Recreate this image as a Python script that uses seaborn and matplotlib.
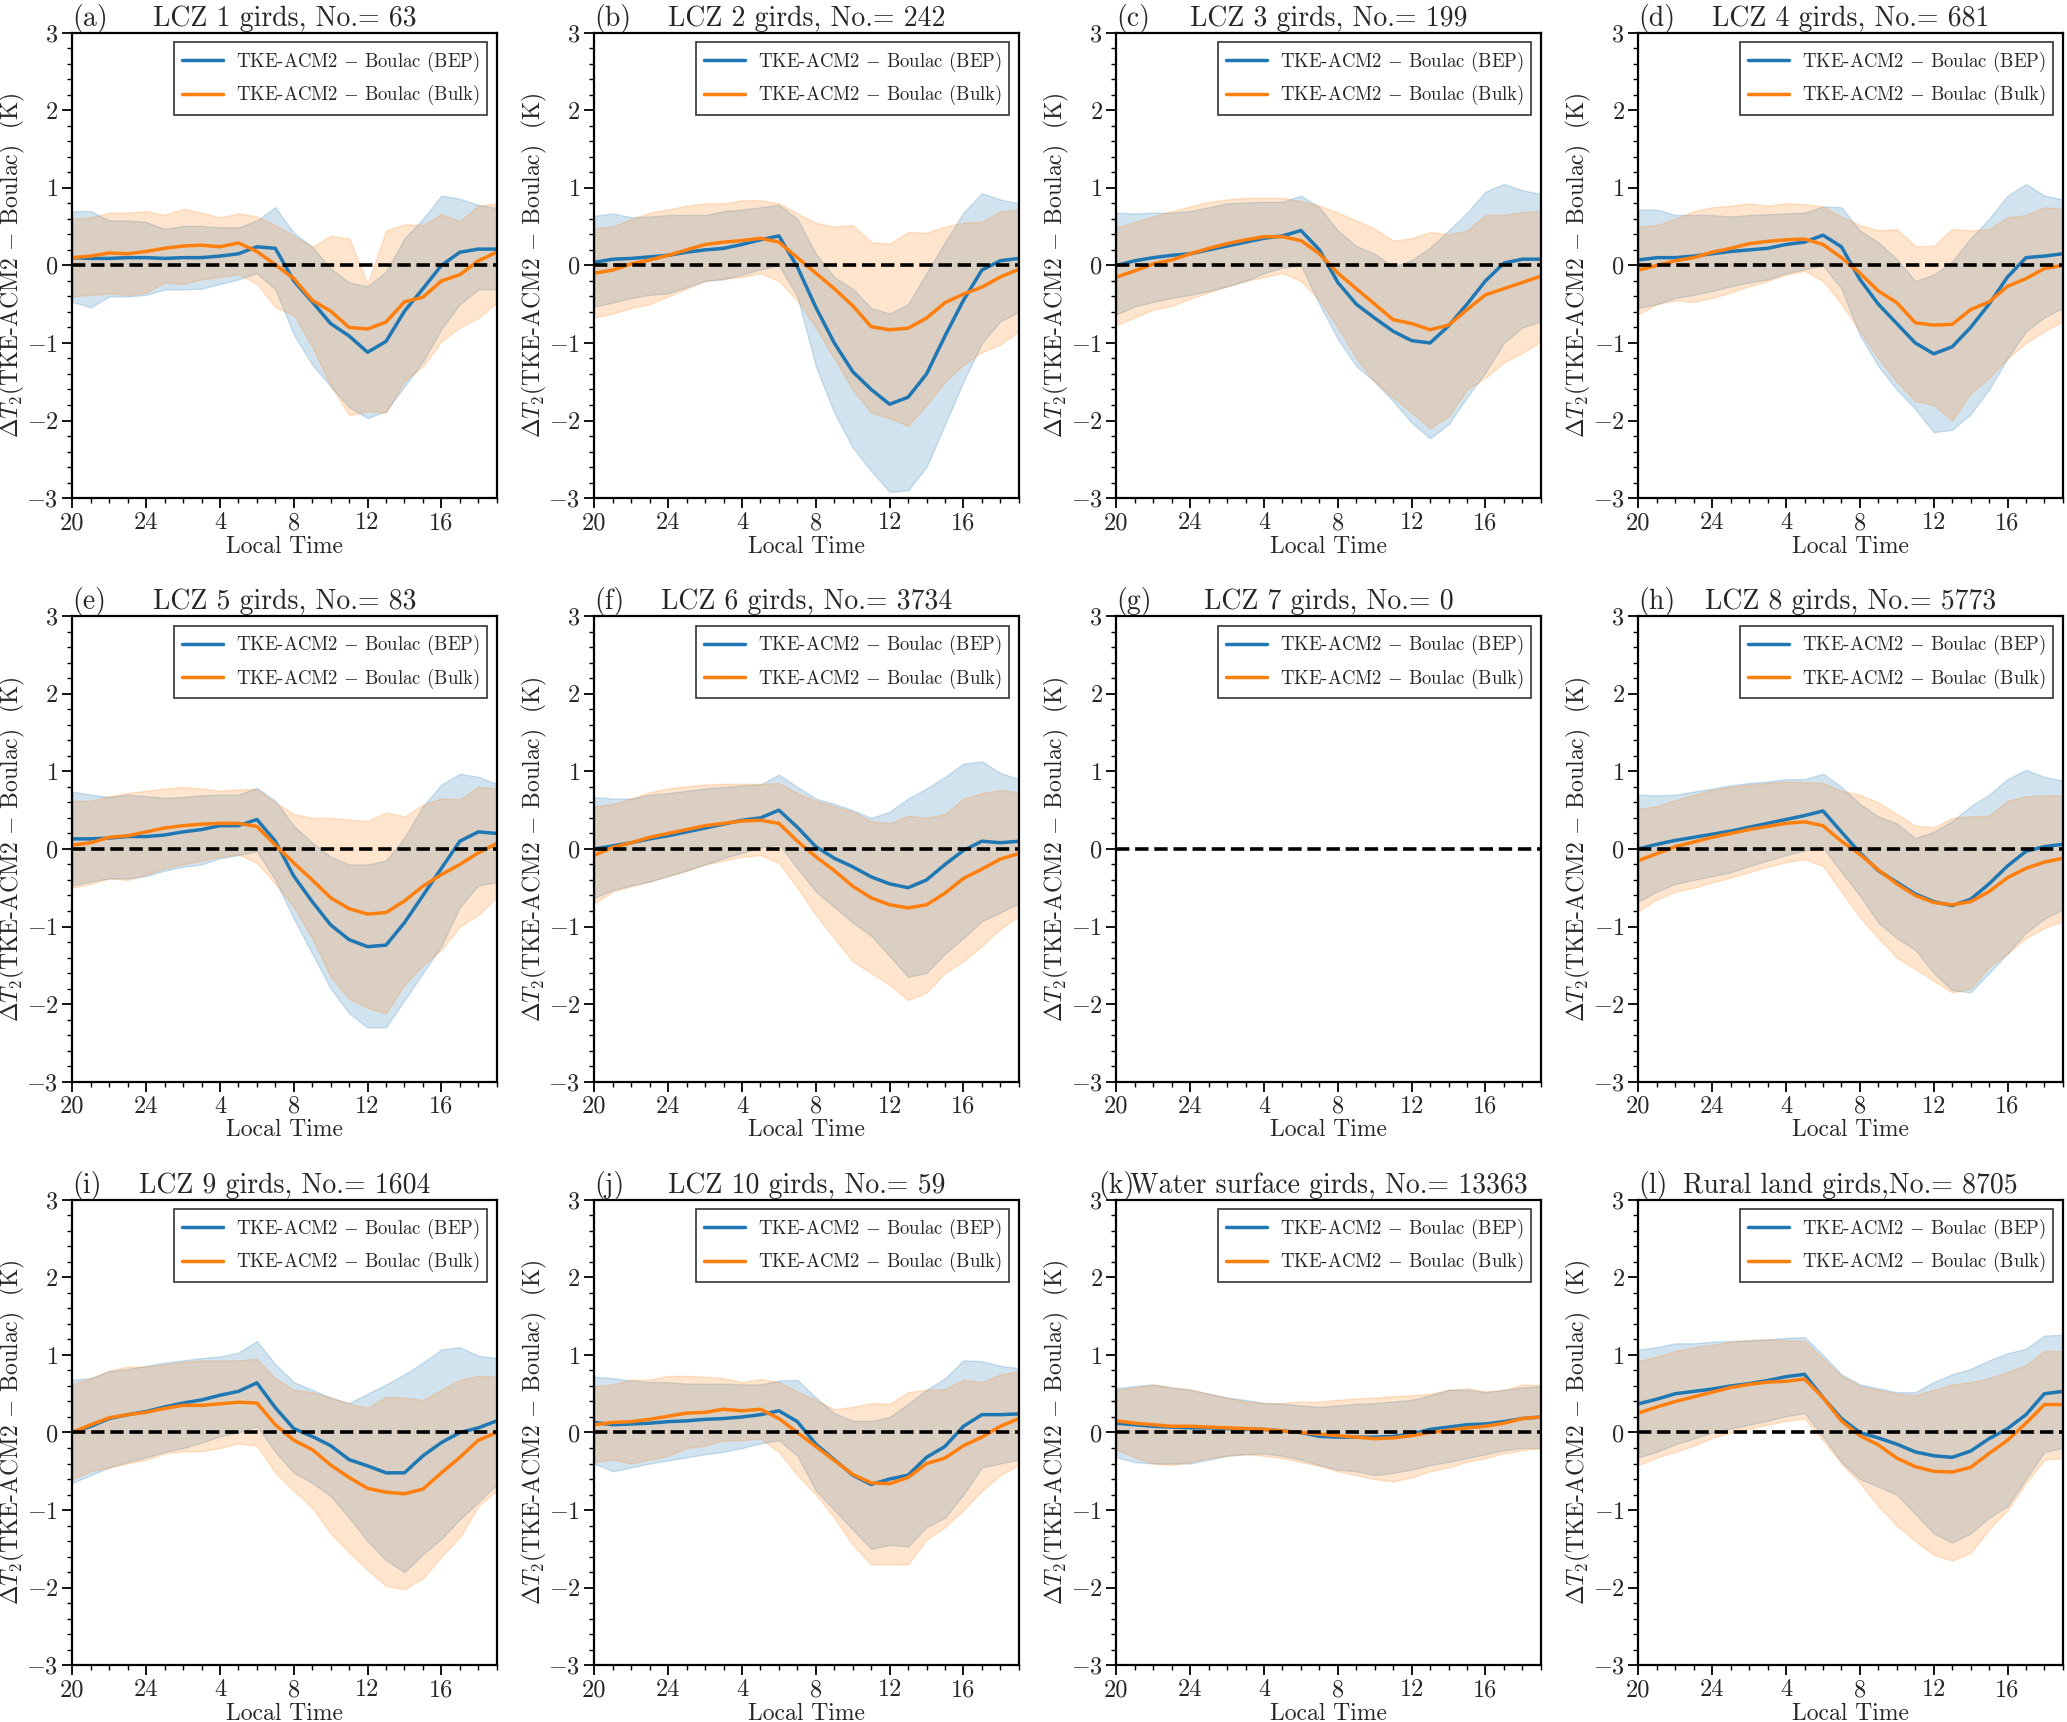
""" Diurnal T2 difference (TKE-ACM2 - Boulac) per LCZ class. """
import numpy as np
import seaborn as sns
import matplotlib.pyplot as plt
from matplotlib.ticker import MultipleLocator

# local hour of each output step, 20 LT to 19 LT next day
local_hour = [20, 21, 22, 23, 24, 1, 2, 3, 4, 5, 6, 7, 8, 9, 10, 11, 12, 13, 14, 15, 16, 17, 18, 19]
tick_hours = [20, 24, 4, 8, 12, 16]

series_names = ['TKE-ACM2 $-$ Boulac (BEP)', 'TKE-ACM2 $-$ Boulac (Bulk)']

# (a) LCZ 1
lcz1_bep = [0.10, 0.09, 0.09, 0.10, 0.10, 0.09, 0.10, 0.10, 0.12, 0.15, 0.24, 0.22,
            -0.20, -0.47, -0.75, -0.91, -1.12, -0.98, -0.59, -0.30, 0.00, 0.17, 0.21, 0.21]
lcz1_bep_up = [0.70, 0.70, 0.58, 0.58, 0.56, 0.47, 0.51, 0.51, 0.49, 0.49, 0.58, 0.75,
               0.42, 0.24, -0.04, -0.22, -0.27, -0.08, 0.35, 0.60, 0.90, 0.86, 0.78, 0.74]
lcz1_bep_lo = [-0.47, -0.54, -0.40, -0.40, -0.38, -0.31, -0.31, -0.30, -0.24, -0.18, -0.10, -0.31,
               -0.89, -1.28, -1.56, -1.83, -1.97, -1.88, -1.56, -1.24, -0.82, -0.50, -0.31, -0.31]
lcz1_bulk = [0.10, 0.12, 0.16, 0.15, 0.18, 0.22, 0.25, 0.26, 0.24, 0.29, 0.18, 0.01,
             -0.17, -0.45, -0.59, -0.80, -0.82, -0.73, -0.47, -0.41, -0.20, -0.12, 0.06, 0.17]
lcz1_bulk_up = [0.60, 0.62, 0.68, 0.68, 0.70, 0.65, 0.73, 0.68, 0.62, 0.67, 0.63, 0.52,
                0.38, 0.24, 0.38, 0.35, -0.24, 0.45, 0.53, 0.52, 0.66, 0.57, 0.77, 0.80]
lcz1_bulk_lo = [-0.40, -0.38, -0.36, -0.38, -0.35, -0.22, -0.24, -0.18, -0.15, -0.11, -0.24, -0.54,
                -0.64, -1.05, -1.55, -1.93, -1.88, -1.90, -1.49, -1.30, -0.98, -0.80, -0.68, -0.48]

# (b) LCZ 2
lcz2_bep = [0.04, 0.08, 0.09, 0.11, 0.13, 0.17, 0.20, 0.22, 0.27, 0.33, 0.38, -0.02,
            -0.54, -1.00, -1.37, -1.60, -1.79, -1.70, -1.40, -0.91, -0.45, -0.06, 0.06, 0.09]
lcz2_bep_up = [0.64, 0.67, 0.62, 0.63, 0.65, 0.65, 0.65, 0.70, 0.72, 0.75, 0.78, 0.60,
               0.15, -0.15, -0.30, -0.55, -0.62, -0.50, -0.10, 0.30, 0.68, 0.93, 0.85, 0.80]
lcz2_bep_lo = [-0.53, -0.48, -0.42, -0.38, -0.36, -0.28, -0.20, -0.18, -0.12, -0.05, 0.00, -0.40,
               -1.30, -1.90, -2.35, -2.65, -2.92, -2.90, -2.60, -2.05, -1.50, -1.00, -0.72, -0.60]
lcz2_bulk = [-0.10, -0.06, 0.02, 0.07, 0.13, 0.20, 0.27, 0.30, 0.32, 0.35, 0.30, 0.10,
             -0.10, -0.30, -0.52, -0.79, -0.83, -0.81, -0.68, -0.48, -0.37, -0.28, -0.15, -0.05]
lcz2_bulk_up = [0.48, 0.50, 0.60, 0.68, 0.72, 0.77, 0.80, 0.80, 0.84, 0.84, 0.80, 0.67,
                0.55, 0.50, 0.52, 0.30, 0.28, 0.43, 0.42, 0.50, 0.55, 0.56, 0.70, 0.72]
lcz2_bulk_lo = [-0.67, -0.62, -0.55, -0.50, -0.40, -0.30, -0.20, -0.17, -0.15, -0.10, -0.20, -0.45,
                -0.80, -1.20, -1.60, -1.90, -1.97, -2.07, -1.80, -1.50, -1.28, -1.12, -1.02, -0.85]

# (c) LCZ 3
lcz3_bep = [0.00, 0.06, 0.10, 0.13, 0.15, 0.20, 0.25, 0.30, 0.35, 0.38, 0.45, 0.20,
            -0.22, -0.50, -0.68, -0.85, -0.97, -1.00, -0.78, -0.50, -0.20, 0.03, 0.08, 0.08]
lcz3_bep_up = [0.68, 0.67, 0.68, 0.68, 0.70, 0.75, 0.80, 0.81, 0.82, 0.82, 0.90, 0.75,
               0.45, 0.25, 0.15, -0.02, 0.07, 0.23, 0.45, 0.68, 0.95, 1.05, 0.97, 0.92]
lcz3_bep_lo = [-0.63, -0.53, -0.47, -0.42, -0.38, -0.33, -0.27, -0.20, -0.10, -0.03, 0.00, -0.50,
               -0.95, -1.30, -1.50, -1.75, -2.03, -2.23, -2.05, -1.70, -1.38, -1.00, -0.80, -0.72]
lcz3_bulk = [-0.15, -0.07, 0.02, 0.07, 0.15, 0.22, 0.28, 0.33, 0.37, 0.37, 0.32, 0.15,
             -0.10, -0.30, -0.50, -0.70, -0.75, -0.83, -0.77, -0.57, -0.38, -0.30, -0.22, -0.14]
lcz3_bulk_up = [0.49, 0.56, 0.63, 0.70, 0.76, 0.82, 0.85, 0.87, 0.87, 0.87, 0.83, 0.77,
                0.68, 0.58, 0.47, 0.32, 0.35, 0.43, 0.40, 0.45, 0.65, 0.65, 0.69, 0.70]
lcz3_bulk_lo = [-0.77, -0.67, -0.57, -0.52, -0.43, -0.35, -0.27, -0.20, -0.15, -0.10, -0.20, -0.45,
                -0.80, -1.20, -1.50, -1.70, -1.90, -2.10, -1.95, -1.60, -1.45, -1.25, -1.13, -0.98]

# (d) LCZ 4
lcz4_bep = [0.07, 0.10, 0.10, 0.12, 0.15, 0.18, 0.20, 0.22, 0.27, 0.30, 0.39, 0.24,
            -0.18, -0.50, -0.75, -1.00, -1.14, -1.05, -0.80, -0.50, -0.15, 0.10, 0.12, 0.15]
lcz4_bep_up = [0.72, 0.72, 0.65, 0.65, 0.65, 0.63, 0.65, 0.66, 0.67, 0.68, 0.76, 0.75,
               0.45, 0.30, 0.08, -0.20, -0.12, 0.05, 0.35, 0.60, 0.90, 1.05, 0.90, 0.85]
lcz4_bep_lo = [-0.55, -0.50, -0.42, -0.38, -0.33, -0.27, -0.22, -0.18, -0.10, -0.05, 0.00, -0.30,
               -0.90, -1.30, -1.60, -1.85, -2.15, -2.12, -1.92, -1.60, -1.20, -0.85, -0.67, -0.55]
lcz4_bulk = [-0.06, 0.00, 0.06, 0.10, 0.17, 0.22, 0.28, 0.31, 0.33, 0.34, 0.27, 0.10,
             -0.10, -0.33, -0.48, -0.74, -0.77, -0.76, -0.57, -0.47, -0.27, -0.17, -0.04, 0.00]
lcz4_bulk_up = [0.50, 0.52, 0.60, 0.70, 0.75, 0.77, 0.80, 0.77, 0.80, 0.79, 0.76, 0.63,
                0.52, 0.45, 0.47, 0.25, 0.25, 0.47, 0.45, 0.47, 0.62, 0.65, 0.75, 0.73]
lcz4_bulk_lo = [-0.63, -0.50, -0.45, -0.47, -0.42, -0.35, -0.27, -0.20, -0.12, -0.07, -0.20, -0.50,
                -0.85, -1.20, -1.50, -1.75, -1.80, -2.00, -1.65, -1.45, -1.20, -1.00, -0.85, -0.72]

# (e) LCZ 5
lcz5_bep = [0.13, 0.13, 0.14, 0.16, 0.16, 0.18, 0.22, 0.25, 0.30, 0.30, 0.38, 0.10,
            -0.35, -0.68, -0.98, -1.17, -1.26, -1.24, -0.95, -0.60, -0.25, 0.10, 0.22, 0.20]
lcz5_bep_up = [0.74, 0.70, 0.67, 0.70, 0.68, 0.66, 0.67, 0.69, 0.70, 0.70, 0.79, 0.62,
               0.30, 0.08, -0.10, -0.20, -0.20, -0.15, 0.15, 0.55, 0.83, 0.97, 0.93, 0.84]
lcz5_bep_lo = [-0.47, -0.42, -0.38, -0.38, -0.35, -0.28, -0.23, -0.20, -0.12, -0.08, -0.03, -0.40,
               -0.90, -1.35, -1.80, -2.12, -2.30, -2.30, -1.95, -1.60, -1.25, -0.75, -0.47, -0.43]
lcz5_bulk = [0.05, 0.08, 0.15, 0.17, 0.22, 0.27, 0.30, 0.32, 0.33, 0.33, 0.29, 0.05,
             -0.18, -0.40, -0.63, -0.77, -0.84, -0.82, -0.67, -0.48, -0.33, -0.20, -0.05, 0.07]
lcz5_bulk_up = [0.62, 0.62, 0.68, 0.72, 0.75, 0.78, 0.80, 0.78, 0.75, 0.77, 0.77, 0.60,
                0.45, 0.40, 0.40, 0.38, 0.36, 0.47, 0.42, 0.57, 0.65, 0.64, 0.80, 0.78]
lcz5_bulk_lo = [-0.50, -0.45, -0.38, -0.40, -0.33, -0.25, -0.20, -0.15, -0.10, -0.07, -0.18, -0.45,
                -0.75, -1.15, -1.65, -1.93, -2.05, -2.12, -1.75, -1.50, -1.30, -1.00, -0.85, -0.62]

# (f) LCZ 6
lcz6_bep = [0.00, 0.04, 0.08, 0.13, 0.17, 0.22, 0.27, 0.32, 0.37, 0.40, 0.50, 0.28,
            0.03, -0.12, -0.23, -0.36, -0.45, -0.50, -0.40, -0.20, -0.02, 0.10, 0.08, 0.10]
lcz6_bep_up = [0.67, 0.65, 0.65, 0.70, 0.72, 0.75, 0.78, 0.80, 0.82, 0.83, 0.96, 0.80,
               0.65, 0.58, 0.50, 0.40, 0.48, 0.65, 0.78, 0.93, 1.10, 1.13, 0.98, 0.90]
lcz6_bep_lo = [-0.63, -0.53, -0.47, -0.42, -0.35, -0.28, -0.20, -0.12, -0.05, 0.02, 0.06, -0.25,
               -0.55, -0.75, -0.95, -1.12, -1.38, -1.65, -1.60, -1.35, -1.15, -0.93, -0.82, -0.70]
lcz6_bulk = [-0.08, 0.02, 0.08, 0.15, 0.20, 0.25, 0.30, 0.33, 0.36, 0.37, 0.33, 0.10,
             -0.10, -0.28, -0.48, -0.63, -0.72, -0.76, -0.72, -0.57, -0.38, -0.26, -0.13, -0.06]
lcz6_bulk_up = [0.55, 0.58, 0.65, 0.73, 0.78, 0.81, 0.83, 0.84, 0.84, 0.84, 0.85, 0.72,
                0.62, 0.55, 0.48, 0.36, 0.33, 0.43, 0.40, 0.45, 0.65, 0.72, 0.76, 0.73]
lcz6_bulk_lo = [-0.70, -0.55, -0.48, -0.42, -0.35, -0.28, -0.20, -0.15, -0.10, -0.08, -0.18, -0.50,
                -0.85, -1.15, -1.45, -1.60, -1.75, -1.95, -1.85, -1.60, -1.45, -1.25, -1.03, -0.87]

# (h) LCZ 8
lcz8_bep = [0.00, 0.06, 0.11, 0.15, 0.19, 0.23, 0.28, 0.33, 0.38, 0.43, 0.49, 0.22,
            -0.05, -0.28, -0.43, -0.58, -0.68, -0.73, -0.65, -0.45, -0.22, -0.03, 0.03, 0.06]
lcz8_bep_up = [0.70, 0.69, 0.70, 0.74, 0.78, 0.82, 0.85, 0.87, 0.90, 0.90, 0.97, 0.80,
               0.58, 0.42, 0.33, 0.14, 0.22, 0.36, 0.55, 0.70, 0.90, 1.02, 0.93, 0.88]
lcz8_bep_lo = [-0.68, -0.55, -0.45, -0.40, -0.35, -0.30, -0.22, -0.15, -0.08, -0.02, 0.02, -0.30,
               -0.60, -0.95, -1.15, -1.30, -1.60, -1.82, -1.85, -1.60, -1.35, -1.08, -0.90, -0.78]
lcz8_bulk = [-0.15, -0.06, 0.03, 0.09, 0.15, 0.20, 0.25, 0.29, 0.33, 0.35, 0.30, 0.10,
             -0.07, -0.27, -0.45, -0.60, -0.69, -0.72, -0.68, -0.55, -0.37, -0.25, -0.17, -0.12]
lcz8_bulk_up = [0.52, 0.55, 0.63, 0.70, 0.76, 0.80, 0.83, 0.85, 0.87, 0.86, 0.85, 0.75,
                0.70, 0.60, 0.45, 0.30, 0.28, 0.40, 0.42, 0.43, 0.62, 0.68, 0.69, 0.69]
lcz8_bulk_lo = [-0.80, -0.65, -0.55, -0.50, -0.43, -0.37, -0.30, -0.23, -0.17, -0.13, -0.22, -0.55,
                -0.88, -1.15, -1.40, -1.55, -1.70, -1.85, -1.80, -1.52, -1.35, -1.15, -1.02, -0.93]

# (i) LCZ 9
lcz9_bep = [0.00, 0.08, 0.18, 0.23, 0.27, 0.33, 0.38, 0.42, 0.48, 0.53, 0.64, 0.32,
            0.05, -0.05, -0.17, -0.35, -0.43, -0.52, -0.52, -0.30, -0.13, 0.00, 0.06, 0.15]
lcz9_bep_up = [0.68, 0.70, 0.79, 0.82, 0.86, 0.90, 0.93, 0.96, 0.98, 1.03, 1.18, 0.88,
               0.65, 0.55, 0.45, 0.38, 0.50, 0.62, 0.75, 0.90, 1.07, 1.10, 0.99, 0.96]
lcz9_bep_lo = [-0.65, -0.55, -0.45, -0.38, -0.32, -0.25, -0.20, -0.13, -0.05, 0.00, 0.08, -0.25,
               -0.52, -0.65, -0.82, -1.10, -1.40, -1.65, -1.80, -1.57, -1.37, -1.12, -0.90, -0.67]
lcz9_bulk = [0.00, 0.10, 0.19, 0.23, 0.26, 0.31, 0.35, 0.35, 0.37, 0.39, 0.38, 0.10,
             -0.10, -0.22, -0.42, -0.58, -0.72, -0.77, -0.79, -0.73, -0.52, -0.32, -0.10, 0.00]
lcz9_bulk_up = [0.62, 0.70, 0.80, 0.85, 0.85, 0.88, 0.91, 0.93, 0.93, 0.93, 0.95, 0.70,
                0.55, 0.52, 0.45, 0.37, 0.32, 0.46, 0.45, 0.42, 0.55, 0.68, 0.73, 0.72]
lcz9_bulk_lo = [-0.60, -0.50, -0.45, -0.40, -0.35, -0.27, -0.24, -0.24, -0.20, -0.14, -0.17, -0.52,
                -0.75, -0.97, -1.30, -1.55, -1.77, -1.98, -2.02, -1.88, -1.60, -1.35, -0.95, -0.75]

# (j) LCZ 10
lcz10_bep = [0.13, 0.10, 0.11, 0.12, 0.14, 0.15, 0.17, 0.18, 0.20, 0.23, 0.28, 0.14,
             -0.15, -0.35, -0.55, -0.67, -0.60, -0.55, -0.32, -0.18, 0.08, 0.23, 0.23, 0.24]
lcz10_bep_up = [0.72, 0.70, 0.67, 0.65, 0.65, 0.63, 0.63, 0.63, 0.62, 0.62, 0.67, 0.68,
                0.45, 0.25, 0.15, 0.15, 0.20, 0.37, 0.55, 0.70, 0.93, 0.92, 0.86, 0.83]
lcz10_bep_lo = [-0.40, -0.50, -0.45, -0.40, -0.36, -0.32, -0.28, -0.25, -0.20, -0.14, -0.10, -0.30,
                -0.75, -1.00, -1.25, -1.50, -1.45, -1.47, -1.22, -1.10, -0.80, -0.45, -0.40, -0.35]
lcz10_bulk = [0.10, 0.13, 0.14, 0.17, 0.21, 0.25, 0.26, 0.30, 0.28, 0.30, 0.18, 0.00,
              -0.18, -0.36, -0.54, -0.65, -0.66, -0.58, -0.40, -0.33, -0.17, -0.06, 0.08, 0.18]
lcz10_bulk_up = [0.60, 0.62, 0.68, 0.68, 0.73, 0.73, 0.72, 0.70, 0.65, 0.69, 0.65, 0.53,
                 0.42, 0.30, 0.33, 0.38, 0.37, 0.52, 0.55, 0.56, 0.68, 0.65, 0.75, 0.79]
lcz10_bulk_lo = [-0.38, -0.35, -0.40, -0.35, -0.30, -0.20, -0.17, -0.10, -0.10, -0.08, -0.25, -0.55,
                 -0.80, -1.10, -1.45, -1.70, -1.70, -1.70, -1.38, -1.22, -1.00, -0.75, -0.55, -0.42]

# (k) water surface
water_bep = [0.12, 0.10, 0.08, 0.07, 0.06, 0.06, 0.05, 0.04, 0.04, 0.02, 0.00, -0.05,
             -0.06, -0.06, -0.06, -0.05, -0.02, 0.04, 0.07, 0.10, 0.11, 0.14, 0.18, 0.20]
water_bep_up = [0.57, 0.60, 0.62, 0.58, 0.55, 0.50, 0.45, 0.42, 0.38, 0.37, 0.35, 0.33,
                0.35, 0.37, 0.38, 0.40, 0.42, 0.48, 0.55, 0.55, 0.52, 0.55, 0.58, 0.60]
water_bep_lo = [-0.32, -0.38, -0.40, -0.40, -0.40, -0.35, -0.30, -0.28, -0.27, -0.30, -0.35, -0.42,
                -0.48, -0.50, -0.55, -0.52, -0.48, -0.42, -0.38, -0.33, -0.28, -0.23, -0.20, -0.20]
water_bulk = [0.15, 0.12, 0.10, 0.08, 0.08, 0.07, 0.06, 0.05, 0.04, 0.02, 0.00, -0.02,
              -0.04, -0.06, -0.08, -0.07, -0.04, 0.00, 0.03, 0.06, 0.08, 0.12, 0.18, 0.20]
water_bulk_up = [0.55, 0.58, 0.62, 0.58, 0.56, 0.50, 0.45, 0.40, 0.38, 0.38, 0.40, 0.40,
                 0.42, 0.44, 0.45, 0.47, 0.48, 0.50, 0.55, 0.57, 0.53, 0.55, 0.62, 0.61]
water_bulk_lo = [-0.22, -0.32, -0.40, -0.42, -0.38, -0.33, -0.30, -0.28, -0.30, -0.33, -0.38, -0.43,
                 -0.50, -0.55, -0.60, -0.63, -0.58, -0.50, -0.45, -0.38, -0.33, -0.27, -0.23, -0.20]

# (l) rural land
rural_bep = [0.37, 0.43, 0.50, 0.53, 0.56, 0.60, 0.63, 0.67, 0.72, 0.75, 0.45, 0.18,
             0.00, -0.07, -0.15, -0.25, -0.30, -0.32, -0.24, -0.08, 0.05, 0.23, 0.50, 0.53]
rural_bep_up = [1.07, 1.10, 1.15, 1.15, 1.17, 1.18, 1.19, 1.20, 1.22, 1.23, 1.00, 0.75,
                0.62, 0.57, 0.52, 0.52, 0.65, 0.75, 0.82, 0.93, 1.02, 1.08, 1.25, 1.26]
rural_bep_lo = [-0.32, -0.25, -0.15, -0.08, 0.00, 0.05, 0.10, 0.15, 0.21, 0.25, -0.05, -0.38,
                -0.60, -0.70, -0.80, -1.05, -1.30, -1.42, -1.30, -1.10, -0.95, -0.60, -0.25, -0.20]
rural_bulk = [0.25, 0.33, 0.40, 0.46, 0.52, 0.58, 0.62, 0.65, 0.66, 0.69, 0.45, 0.15,
              -0.04, -0.16, -0.33, -0.44, -0.50, -0.51, -0.45, -0.27, -0.10, 0.12, 0.36, 0.36]
rural_bulk_up = [0.92, 0.98, 1.05, 1.10, 1.13, 1.17, 1.19, 1.20, 1.19, 1.18, 0.95, 0.73,
                 0.60, 0.55, 0.50, 0.48, 0.55, 0.62, 0.65, 0.70, 0.78, 0.87, 1.05, 1.05]
rural_bulk_lo = [-0.42, -0.32, -0.25, -0.17, -0.07, 0.00, 0.05, 0.10, 0.15, 0.18, -0.10, -0.40,
                 -0.65, -0.95, -1.20, -1.40, -1.58, -1.65, -1.55, -1.25, -1.00, -0.65, -0.35, -0.33]

panel_tags = ['(a)', '(b)', '(c)', '(d)', '(e)', '(f)', '(g)', '(h)', '(i)', '(j)', '(k)', '(l)']
panel_titles = ['LCZ 1 girds, No.= 63', 'LCZ 2 girds, No.= 242', 'LCZ 3 girds, No.= 199',
                'LCZ 4 girds, No.= 681', 'LCZ 5 girds, No.= 83', 'LCZ 6 girds, No.= 3734',
                'LCZ 7 girds, No.= 0', 'LCZ 8 girds, No.= 5773', 'LCZ 9 girds, No.= 1604',
                'LCZ 10 girds, No.= 59', 'Water surface girds, No.= 13363',
                'Rural land girds,No.= 8705']

# (mean, upper, lower) per series for each panel; LCZ 7 has no grids
panel_data = [
    [(lcz1_bep, lcz1_bep_up, lcz1_bep_lo), (lcz1_bulk, lcz1_bulk_up, lcz1_bulk_lo)],
    [(lcz2_bep, lcz2_bep_up, lcz2_bep_lo), (lcz2_bulk, lcz2_bulk_up, lcz2_bulk_lo)],
    [(lcz3_bep, lcz3_bep_up, lcz3_bep_lo), (lcz3_bulk, lcz3_bulk_up, lcz3_bulk_lo)],
    [(lcz4_bep, lcz4_bep_up, lcz4_bep_lo), (lcz4_bulk, lcz4_bulk_up, lcz4_bulk_lo)],
    [(lcz5_bep, lcz5_bep_up, lcz5_bep_lo), (lcz5_bulk, lcz5_bulk_up, lcz5_bulk_lo)],
    [(lcz6_bep, lcz6_bep_up, lcz6_bep_lo), (lcz6_bulk, lcz6_bulk_up, lcz6_bulk_lo)],
    None,
    [(lcz8_bep, lcz8_bep_up, lcz8_bep_lo), (lcz8_bulk, lcz8_bulk_up, lcz8_bulk_lo)],
    [(lcz9_bep, lcz9_bep_up, lcz9_bep_lo), (lcz9_bulk, lcz9_bulk_up, lcz9_bulk_lo)],
    [(lcz10_bep, lcz10_bep_up, lcz10_bep_lo), (lcz10_bulk, lcz10_bulk_up, lcz10_bulk_lo)],
    [(water_bep, water_bep_up, water_bep_lo), (water_bulk, water_bulk_up, water_bulk_lo)],
    [(rural_bep, rural_bep_up, rural_bep_lo), (rural_bulk, rural_bulk_up, rural_bulk_lo)],
]

colors = ['#1f77b4', '#ff7f0e']

sns.set_style("ticks")
plt.rcParams['font.family'] = ['cmr10', 'DejaVu Serif']
plt.rcParams['mathtext.fontset'] = 'cm'
plt.rcParams['axes.formatter.use_mathtext'] = True
plt.rcParams['axes.unicode_minus'] = True

# hours elapsed since 20 LT gives the x position of each step
elapsed = [(h - 20) % 24 for h in local_hour]
tick_pos = [(h - 20) % 24 for h in tick_hours]

fig, axes = plt.subplots(3, 4, figsize=(20.67, 17.22), dpi=100)
plt.subplots_adjust(left=0.035, right=0.998, bottom=0.033, top=0.981,
                    wspace=0.23, hspace=0.254)

for ax, tag, title, data in zip(axes.flat, panel_tags, panel_titles, panel_data):
    if data is None:
        for name, col in zip(series_names, colors):
            ax.plot([], [], color=col, lw=2.5, label=name)
    else:
        for (mean, upper, lower), col in zip(data, colors):
            ax.fill_between(elapsed, lower, upper, color=col, alpha=0.2, lw=1)
        for (mean, upper, lower), name, col in zip(data, series_names, colors):
            sns.lineplot(x=elapsed, y=mean, ax=ax, color=col, lw=2.5, label=name)
    ax.axhline(0, color='k', ls='--', lw=2.6, zorder=3)

    ax.set_xlim(0, 23)
    ax.set_ylim(-3, 3)
    ax.set_xticks(tick_pos)
    ax.set_xticklabels([str(h) for h in tick_hours])
    ax.xaxis.set_minor_locator(MultipleLocator(1))
    ax.yaxis.set_major_locator(MultipleLocator(1))
    ax.yaxis.set_minor_locator(MultipleLocator(0.2))
    ax.tick_params(which='major', length=7, width=1.3, labelsize=17.5, color='k', pad=3)
    ax.tick_params(which='minor', length=3.5, width=1.0, color='k')
    for sp in ax.spines.values():
        sp.set_linewidth(1.6)
        sp.set_color('k')

    ax.set_xlabel('Local Time', fontsize=17, labelpad=1)
    ax.set_ylabel(r'$\Delta T_2$(TKE-ACM2 $-$ Boulac)  (K)', fontsize=17)
    ax.yaxis.set_label_coords(-0.108, 0.5)
    # the long water-surface title pushes its tag over the axis edge
    tag_x = -0.042 if title.startswith('Water') else 0.0
    ax.set_title(tag, loc='left', fontsize=20, pad=5, x=tag_x)
    ax.set_title(title, loc='center', fontsize=20, pad=5)

    leg = ax.legend(loc='upper right', fontsize=13.5, frameon=True, fancybox=False,
                    framealpha=1, edgecolor='#333333', handlelength=2.2,
                    handletextpad=0.7, borderaxespad=0.5)
    leg.get_frame().set_linewidth(1.2)

fig.savefig('out.png', dpi=100)
